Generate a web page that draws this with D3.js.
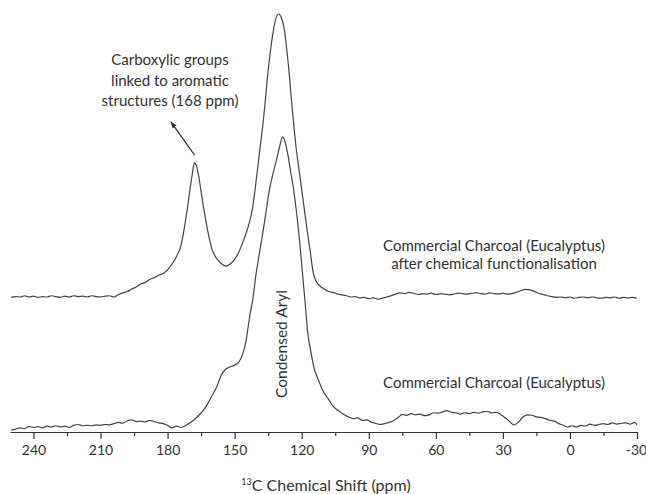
<!DOCTYPE html>
<html>
<head>
<meta charset="utf-8">
<script src="https://cdn.jsdelivr.net/npm/d3@7"></script>
<style>
  html, body { margin: 0; padding: 0; background: #fff; }
  svg { display: block; }
  text { font-family: Lato, "Open Sans", sans-serif; fill: #333; }
</style>
</head>
<body>
<svg id="chart" width="646" height="494"></svg>
<script>
// ---- Data (ppm, intensity a.u.) ----
// Commercial charcoal after chemical functionalisation (offset trace)
const functionalisedPpm = [250,248,246,244,242,240,238,236,234,232,230,228,226,224,222,220,218,216,214,212,210,208,206,204,202,200,198,196,194,192,190,188,186,184,182,180,178,176,174,172,171,170,169,168,167,166,165,164,163,162,161,160,158,156,154,152,150,148,146,144,142,140.5,139,137,135,133,131.5,130.3,129,128,126,124,122.5,121,119.5,117.5,116,115,113.5,112,110,108,106,104,102,100,98,96,94,92,90,88,86,84,82,80,78,76,74,72,70,68,66,64,62,60,58,56,54,52,50,48,46,44,42,40,38,36,34,32,30,28,26,24,22,20,18,16,14,12,10,8,6,4,2,0,-2,-4,-6,-8,-10,-12,-14,-16,-18,-20,-22,-24,-26,-28,-30];
const functionalisedInt = [32.2,32.4,32.3,32.6,32.3,32.5,32.2,32.4,32.3,32.6,32.4,32.2,32.5,32.3,32.6,32.4,32.5,32.3,32.6,32.4,32.3,32.5,32.6,32.3,32.9,33.3,33.6,34.2,34.7,35.4,35.8,36.5,36.9,37.5,37.9,38.8,40.2,42.0,44.6,50.5,54.0,58.0,61.5,64.4,63.5,61.0,57.5,54.0,51.0,48.0,45.5,43.5,41.5,40.3,39.7,40.2,41.3,43.2,45.9,49.0,53.5,59.6,66.3,75.4,86.5,95.0,99.0,100,99.0,97.0,88.0,76.0,68.0,62.0,56.0,48.0,42.5,38.5,36.0,35.0,34.2,33.6,33.4,33.0,32.8,32.6,32.3,32.4,32.1,32.2,31.9,32.1,31.8,32.0,32.3,32.6,33.0,33.3,33.1,33.4,33.2,32.9,33.1,33.0,33.2,32.9,33.1,33.0,32.8,33.0,33.2,33.1,33.0,33.2,33.3,33.1,33.0,33.3,33.1,33.0,33.2,33.0,33.1,33.4,33.8,34.1,34.0,33.7,33.2,32.9,32.6,32.4,32.2,32.3,32.1,32.3,32.0,32.2,32.3,32.1,32.3,32.1,32.0,32.2,32.1,32.3,32.0,32.2,32.1,32.2,32.0];

// Commercial charcoal (Eucalyptus), as received
const charcoalPpm = [250,248,246,244,242,240,238,236,234,232,230,228,226,224,222,220,218,216,214,212,210,208,206,204,202,200,198,196,194,192,190,188,186,184,182,180,178,176,174,172,170,168,166,164,162,160,158,156,154,152,150,148,146.5,145,144,143,142,140.5,139,137.5,136,134.5,133,131.5,130,128.5,127.5,126.3,125,123.6,122.3,121.3,120.3,119.5,118.2,117.3,116,114.6,112.5,110.6,108,105.7,103,101,99,97,95,93,91,89,87,85,83,81,79,77,75,73,71,69,67,65,63,61,59,57,55,53,51,49,47,45,43,41,39,37,35,33,31,29,27,25,23,21,19,17,15,13,11,9,7,5,3,1,-1,-3,-5,-7,-9,-11,-13,-15,-17,-19,-21,-23,-25,-27,-29,-30];
const charcoalInt = [0.5,0.7,1.0,0.8,1.3,1.1,1.3,1.0,1.4,1.2,1.5,1.2,1.4,1.1,1.6,1.8,1.5,1.6,1.5,1.7,1.6,1.8,1.7,2.0,2.3,2.1,2.7,2.9,2.5,2.6,2.4,2.8,2.5,2.2,2.0,1.6,1.0,1.4,1.1,1.5,2.2,3.0,4.0,5.2,6.8,8.8,10.8,13.6,15.0,15.6,16.0,16.8,18.5,21.5,25.0,28.5,31.3,37.5,42.5,47.3,52.5,57.8,61.5,64.6,68.0,70.6,69.5,66.7,62.5,57.9,52.5,47.6,42.0,37.1,29.2,23.7,19.5,15.6,12.4,10.0,7.8,6.0,4.9,4.1,3.6,3.2,3.4,2.8,2.9,2.4,2.1,1.8,2.0,2.3,2.7,3.4,4.2,4.0,4.4,4.1,4.3,3.9,4.1,4.6,4.5,4.8,5.1,4.7,4.6,4.3,4.6,4.4,4.7,4.5,4.8,4.9,4.6,4.7,4.2,3.4,2.5,1.7,2.4,3.6,4.1,4.0,3.6,3.5,3.2,2.8,2.6,2.0,1.6,1.2,1.5,1.2,1.6,1.4,1.9,1.6,1.8,2.0,1.8,2.2,1.9,2.1,2.2,1.9,2.3,1.7];

const majorTicks = [240,210,180,150,120,90,60,30,0,-30];
const minorTicks = [225,195,165,135,105,75,45,15,-15];

const axisTitle = "C Chemical Shift (ppm)";
const axisTitleSup = "13";
const labelFunctionalised = ["Commercial Charcoal (Eucalyptus)", "after chemical functionalisation"];
const labelCharcoal = "Commercial Charcoal (Eucalyptus)";
const labelAryl = "Condensed Aryl";
const labelCarboxyl = ["Carboxylic groups", "linked to aromatic", "structures (168 ppm)"];
// arrow annotation: from peak (ppm, a.u.) to label
const arrowFrom = [167.9, 65.3];
const arrowTo = [178.5, 74.2];

// ---- Drawing ----
const svg = d3.select("#chart");
const x = d3.scaleLinear().domain([250.5, -30]).range([10, 637]);
const y = d3.scaleLinear().domain([0, 100]).range([432, 14]);

const line = d3.line()
  .x(d => x(d[0])).y(d => y(d[1]))
  .curve(d3.curveMonotoneX);

const series = [
  d3.zip(functionalisedPpm, functionalisedInt),
  d3.zip(charcoalPpm, charcoalInt)
];
svg.append("g").selectAll("path").data(series).join("path")
  .attr("d", line)
  .attr("fill", "none")
  .attr("stroke", "#444")
  .attr("stroke-width", 1.2)
  .attr("stroke-linejoin", "round");

// axis
const gx = svg.append("g").attr("transform", "translate(0,432)");
gx.call(d3.axisBottom(x).tickValues(majorTicks).tickSize(7).tickSizeOuter(0).tickPadding(6).tickFormat(d => String(d)));
gx.select(".domain").attr("stroke", "#333").attr("stroke-width", 1.2);
gx.selectAll(".tick line").attr("stroke", "#333").attr("stroke-width", 1.2);
gx.selectAll(".tick text").style("font-family", "Lato, sans-serif").style("font-size", "14px").attr("fill", "#333")
  .filter(d => d === -30).attr("dx", "-1");
const gm = svg.append("g").attr("transform", "translate(0,432)");
gm.call(d3.axisBottom(x).tickValues(minorTicks).tickSize(4).tickSizeOuter(0).tickFormat(""));
gm.select(".domain").remove();
gm.selectAll(".tick line").attr("stroke", "#333").attr("stroke-width", 1.2);

// axis title with superscript
const title = svg.append("text").attr("x", 326).attr("y", 491).attr("text-anchor", "middle")
  .style("font-size", "16px");
title.append("tspan").text(axisTitleSup).style("font-size", "9px").attr("dy", "-6");
title.append("tspan").text(axisTitle).attr("dy", "6");

// labels
const annSize = 15;
function addLines(lines, cx, baseline, gap) {
  lines.forEach((t, i) => {
    svg.append("text").attr("x", cx).attr("y", baseline + i * gap)
      .attr("text-anchor", "middle").style("font-size", annSize + "px").text(t);
  });
}
addLines(labelFunctionalised, 494, 251, 18);
addLines([labelCharcoal], 494, 388, 18);
addLines(labelCarboxyl, 170, 65, 20.5);

svg.append("text")
  .attr("transform", "translate(287,344) rotate(-90)")
  .attr("text-anchor", "middle").style("font-size", "15.5px").text(labelAryl);

// arrow
const defs = svg.append("defs");
defs.append("marker").attr("id", "arrowhead").attr("viewBox", "0 0 10 10")
  .attr("refX", 9).attr("refY", 5).attr("markerWidth", 7).attr("markerHeight", 7)
  .attr("markerUnits", "userSpaceOnUse").attr("orient", "auto")
  .append("path").attr("d", "M0,1.5 L10,5 L0,8.5 Z").attr("fill", "#333");
svg.append("line")
  .attr("x1", x(arrowFrom[0])).attr("y1", y(arrowFrom[1]) - 4)
  .attr("x2", x(arrowTo[0])).attr("y2", y(arrowTo[1]))
  .attr("stroke", "#333").attr("stroke-width", 1.2)
  .attr("marker-end", "url(#arrowhead)");
</script>
</body>
</html>
